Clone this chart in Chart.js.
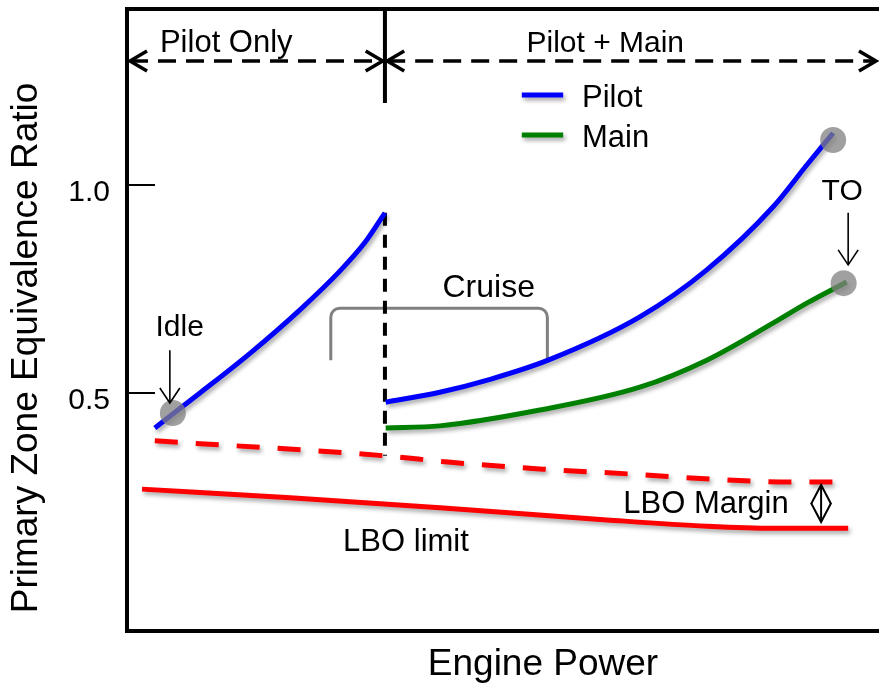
<!DOCTYPE html>
<html>
<head>
<meta charset="utf-8">
<title>Primary zone equivalence ratio vs engine power</title>
<script src="https://cdn.jsdelivr.net/npm/chart.js@4.4.1/dist/chart.umd.min.js"></script>
<style>
  html, body { margin: 0; padding: 0; background: #fff; overflow: hidden; }
  canvas { display: block; }
</style>
</head>
<body>
<canvas id="chart" width="879" height="692"></canvas>
<script>
// Engine power on an arbitrary 0-100 scale, equivalence ratio

// Pilot-only operation (idle up to staging point)
const pilotOnlyPower = [3.7, 9.7, 16.4, 23.0, 28.3, 31.6, 34.3];
const pilotOnlyPhi   = [0.416, 0.500, 0.596, 0.700, 0.793, 0.861, 0.933];

// Pilot + Main operation, pilot stage
const pilotPower = [34.4, 41.6, 48.3, 56.0, 68.2, 77.1, 85.9, 90.4, 93.9];
const pilotPhi   = [0.478, 0.502, 0.533, 0.579, 0.683, 0.796, 0.947, 1.048, 1.125];

// Pilot + Main operation, main stage
const mainPower = [34.4, 41.6, 54.9, 68.2, 77.1, 85.9, 90.4, 95.7];
const mainPhi   = [0.416, 0.421, 0.459, 0.514, 0.579, 0.668, 0.716, 0.767];

// LBO limit plus margin (dashed)
const marginPower = [3.7, 34.3, 42.7, 55.3, 67.2, 77.8, 88.8, 95.9];
const marginPhi   = [0.385, 0.349, 0.334, 0.317, 0.305, 0.293, 0.286, 0.286];

// LBO limit (solid)
const lboPower = [2.0, 21.7, 41.6, 63.8, 77.1, 85.9, 95.9];
const lboPhi   = [0.269, 0.248, 0.224, 0.195, 0.180, 0.175, 0.175];

// Idle and take-off operating points
const opPower = [6.1, 93.9, 95.3];
const opPhi   = [0.452, 1.108, 0.764];

const yTicks = [0.5, 1.0];

// staging point (data units)
const stageX = 34.3;

const FONT = "'Liberation Sans', Arial, Helvetica, sans-serif";
Chart.defaults.font.family = FONT;
Chart.defaults.color = '#000';

function pts(xs, ys) {
    return xs.map((x, i) => ({ x: x, y: ys[i] }));
}

function seg(ctx, x1, y1, x2, y2) {
    ctx.beginPath();
    ctx.moveTo(x1, y1);
    ctx.lineTo(x2, y2);
    ctx.stroke();
}

// open "V" arrow head; (dx, dy) is the pointing direction
function head(ctx, x, y, dx, dy, len, half) {
    const px = -dy, py = dx;
    ctx.beginPath();
    ctx.moveTo(x - dx * len + px * half, y - dy * len + py * half);
    ctx.lineTo(x, y);
    ctx.lineTo(x - dx * len - px * half, y - dy * len - py * half);
    ctx.stroke();
}

function text(ctx, str, x, y, size, align) {
    ctx.font = size + 'px ' + FONT;
    ctx.fillStyle = '#000';
    ctx.textAlign = align || 'center';
    ctx.textBaseline = 'middle';
    ctx.fillText(str, x, y);
}

// fix the axis box sizes so the plot area lands where the slide had it
function fixBox(size) {
    return s => {
        if (s.isHorizontal()) s.height = size; else s.width = size;
        s.paddingTop = 0;
        s.paddingBottom = 0;
        s.paddingLeft = 0;
        s.paddingRight = 0;
    };
}

// soft drop shadow under the curves, like the original slide
const shadowPlugin = {
    id: 'softShadow',
    beforeDatasetDraw(chart, args) {
        const ds = chart.data.datasets[args.index];
        chart.ctx.save();
        if (ds.shadow) {
            chart.ctx.shadowColor = 'rgba(0,0,0,0.35)';
            chart.ctx.shadowBlur = 4;
            chart.ctx.shadowOffsetX = 2;
            chart.ctx.shadowOffsetY = 3;
        }
    },
    afterDatasetDraw(chart) {
        chart.ctx.restore();
    }
};

const annotations = {
    id: 'annotations',
    beforeDatasetsDraw(chart) {
        const { ctx, chartArea: area, scales: { x, y } } = chart;
        const X = v => x.getPixelForValue(v);
        const Y = v => y.getPixelForValue(v);
        ctx.save();
        ctx.strokeStyle = '#000';
        ctx.lineCap = 'butt';

        // tick marks drawn inside the plot
        ctx.lineWidth = 2;
        yTicks.forEach(t => seg(ctx, area.left, Y(t), area.left + 28, Y(t)));

        // staging divider at the top
        ctx.lineWidth = 4;
        seg(ctx, X(stageX), area.top, X(stageX), Y(1.197));

        // cruise bracket
        ctx.strokeStyle = '#808080';
        ctx.lineWidth = 3;
        ctx.beginPath();
        ctx.moveTo(X(27.1), Y(0.579));
        ctx.arcTo(X(27.1), Y(0.704), X(40), Y(0.704), 9);
        ctx.arcTo(X(55.9), Y(0.704), X(55.9), Y(0.579), 9);
        ctx.lineTo(X(55.9), Y(0.579));
        ctx.stroke();

        // dashed staging divider
        ctx.strokeStyle = '#000';
        ctx.lineWidth = 4;
        ctx.setLineDash([13, 9]);
        seg(ctx, X(stageX), Y(0.933), X(stageX), Y(0.349));

        // operating range arrows along the top
        const ya = Y(1.298);
        ctx.lineWidth = 3.5;
        ctx.setLineDash([18, 10]);
        seg(ctx, X(0.4), ya, X(34.0), ya);
        seg(ctx, X(34.6), ya, X(99.6), ya);
        ctx.setLineDash([]);
        head(ctx, X(0.4), ya, -1, 0, 17, 10);
        head(ctx, X(34.0), ya, 1, 0, 17, 10);
        head(ctx, X(34.6), ya, -1, 0, 17, 10);
        head(ctx, X(99.6), ya, 1, 0, 17, 10);
        ctx.restore();
    },
    afterDatasetsDraw(chart) {
        const { ctx, scales: { x, y } } = chart;
        const X = v => x.getPixelForValue(v);
        const Y = v => y.getPixelForValue(v);
        ctx.save();

        text(ctx, 'Pilot Only', X(13.2), Y(1.339), 31);
        text(ctx, 'Pilot + Main', X(63.6), Y(1.339), 30);

        // legend
        const legendItems = [chart.data.datasets[2], chart.data.datasets[3]];
        const rows = [1.216, 1.120];
        legendItems.forEach((ds, i) => {
            ctx.save();
            ctx.shadowColor = 'rgba(0,0,0,0.35)';
            ctx.shadowBlur = 4;
            ctx.shadowOffsetX = 2;
            ctx.shadowOffsetY = 3;
            ctx.strokeStyle = ds.borderColor;
            ctx.lineWidth = 5;
            seg(ctx, X(52.5), Y(rows[i]), X(58.0), Y(rows[i]));
            ctx.restore();
            text(ctx, ds.label, X(60.5), Y(rows[i]) + 3, 31, 'left');
        });

        ctx.strokeStyle = '#000';
        ctx.lineWidth = 1.6;

        // Idle
        text(ctx, 'Idle', X(7.0), Y(0.656), 30);
        seg(ctx, X(5.7), Y(0.603), X(5.7), Y(0.476));
        head(ctx, X(5.7), Y(0.476), 0, 1, 15, 10);

        // Take-off
        text(ctx, 'TO', X(95.1), Y(0.983), 30);
        seg(ctx, X(95.9), Y(0.933), X(95.9), Y(0.808));
        head(ctx, X(95.9), Y(0.808), 0, 1, 15, 10);

        // Cruise
        text(ctx, 'Cruise', X(48.1), Y(0.752), 32);

        // LBO labels
        text(ctx, 'LBO limit', X(37.1), Y(0.142), 31);
        text(ctx, 'LBO Margin', X(77.0), Y(0.231), 31);

        // margin double arrow
        ctx.lineWidth = 2;
        seg(ctx, X(92.3), Y(0.279), X(92.3), Y(0.190));
        head(ctx, X(92.3), Y(0.279), 0, -1, 19, 10);
        head(ctx, X(92.3), Y(0.190), 0, 1, 19, 10);

        ctx.restore();
    },
    afterDraw(chart) {
        const { ctx } = chart;
        ctx.save();
        text(ctx, 'Engine Power', 543, 665, 37);
        ctx.translate(27, 348);
        ctx.rotate(-Math.PI / 2);
        text(ctx, 'Primary Zone Equivalence Ratio', 0, 0, 37);
        ctx.restore();
    }
};

const curve = {
    fill: false,
    borderWidth: 5,
    pointRadius: 0,
    pointHoverRadius: 0,
    cubicInterpolationMode: 'monotone',
    shadow: true
};

new Chart(document.getElementById('chart'), {
    type: 'line',
    data: {
        datasets: [
            {
                label: 'Operating points',
                data: pts(opPower, opPhi),
                showLine: false,
                pointRadius: 13,
                pointBackgroundColor: 'rgba(128,128,128,0.75)',
                pointBorderWidth: 0
            },
            Object.assign({}, curve, { label: 'Pilot only', data: pts(pilotOnlyPower, pilotOnlyPhi), borderColor: '#0000ff' }),
            Object.assign({}, curve, { label: 'Pilot', data: pts(pilotPower, pilotPhi), borderColor: '#0000ff' }),
            Object.assign({}, curve, { label: 'Main', data: pts(mainPower, mainPhi), borderColor: '#008000' }),
            Object.assign({}, curve, { label: 'LBO limit + margin', data: pts(marginPower, marginPhi), borderColor: '#ff0000', borderDash: [23, 18] }),
            Object.assign({}, curve, { label: 'LBO limit', data: pts(lboPower, lboPhi), borderColor: '#ff0000' })
        ]
    },
    options: {
        responsive: false,
        animation: false,
        devicePixelRatio: 1,
        layout: { padding: 0, autoPadding: false },
        plugins: {
            legend: { display: false },
            tooltip: { enabled: false }
        },
        scales: {
            x: {
                type: 'linear', position: 'bottom', min: 0, max: 100,
                ticks: { display: false },
                grid: { display: false, drawTicks: false },
                border: { display: true, color: '#000', width: 4 },
                afterFit: fixBox(61)
            },
            xTop: {
                type: 'linear', position: 'top', min: 0, max: 100,
                ticks: { display: false },
                grid: { display: false, drawTicks: false },
                border: { display: true, color: '#000', width: 4 },
                afterFit: fixBox(9)
            },
            y: {
                type: 'linear', position: 'left', min: -0.072, max: 1.423,
                afterBuildTicks: s => { s.ticks = yTicks.map(v => ({ value: v })); },
                ticks: {
                    color: '#000',
                    font: { size: 30 },
                    padding: 17,
                    labelOffset: 8,
                    callback: v => v.toFixed(1)
                },
                grid: { display: false, drawTicks: false },
                border: { display: true, color: '#000', width: 4 },
                afterFit: fixBox(127)
            }
        }
    },
    plugins: [shadowPlugin, annotations]
});
</script>
</body>
</html>
